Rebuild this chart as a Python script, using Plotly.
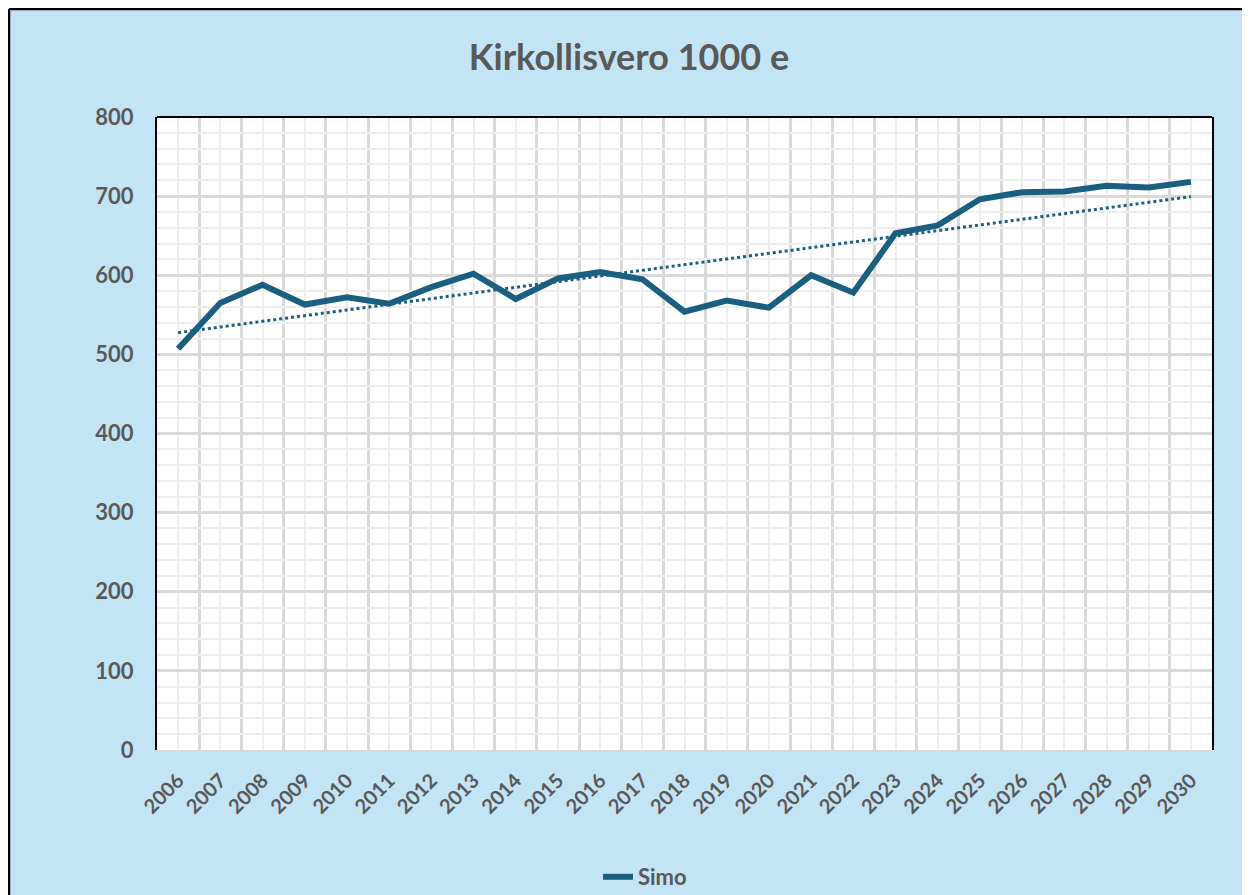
import numpy as np
import plotly.graph_objects as go

years = list(range(2006, 2031))
year_labels = [str(y) for y in years]
simo = [507, 565, 588, 563, 572, 564, 585, 602, 570, 596, 604, 595, 554, 568, 559,
        600, 578, 653, 663, 696, 705, 706, 713, 711, 718]

LINE = "#1b5f80"
TXT = "#595959"
BG = "#c3e4f5"
FONT = "Lato"

# Linear trend (like Excel trendline), derived from the series
coef = np.polyfit(years, simo, 1)
trend = np.polyval(coef, years)

fig = go.Figure()
fig.add_trace(go.Scatter(x=years, y=trend, mode="lines", showlegend=False,
                         line=dict(color=LINE, width=3, dash="dot"), hoverinfo="skip"))
fig.add_trace(go.Scatter(x=years, y=simo, mode="lines", name="Simo",
                         line=dict(color=LINE, width=6)))

# page has an 8px body margin; figure occupies page x 8..1250, y 8..895
OFF = 8
W, H = 1250 - OFF, 895 - OFF
L, T = 157 - OFF, 117 - OFF
R = W - (1212 - OFF)
B = H - (750 - OFF)
pw, ph = W - L - R, H - T - B

def px(X):
    return (X - OFF - L) / pw

def py(Y):
    return (H - B - (Y - OFF)) / ph

fig.update_layout(
    width=W, height=H,
    margin=dict(l=L, r=R, t=T, b=B, autoexpand=False),
    paper_bgcolor=BG,
    plot_bgcolor="white",
    title=dict(text="Kirkollisvero 1000 e", x=(629 - OFF) / W, xanchor="center",
               y=1 - (57 - OFF) / H, yanchor="middle",
               font=dict(family=FONT, size=36, color=TXT, weight="bold")),
    showlegend=True,
    legend=dict(orientation="h", x=px(598), xanchor="left", y=py(877), yanchor="middle",
                font=dict(family=FONT, size=22, color=TXT, weight="bold"),
                bgcolor="rgba(0,0,0,0)"),
    shapes=[
        # outer chart frame (left and top edges visible)
        dict(type="line", xref="paper", yref="paper", x0=px(9), x1=px(9),
             y0=py(900), y1=py(9), line=dict(color="black", width=2.5)),
        dict(type="line", xref="paper", yref="paper", x0=px(9), x1=px(1260),
             y0=py(9), y1=py(9), line=dict(color="black", width=2.5)),
        # top edge of plot area
        dict(type="line", xref="paper", yref="paper", x0=0, x1=1, y0=1, y1=1,
             line=dict(color="black", width=2)),
    ],
)

fig.update_xaxes(
    range=[2005.5, 2030.5], tickmode="array", tickvals=years, ticktext=year_labels,
    tickangle=-45, tickfont=dict(family=FONT, size=20, color=TXT, weight="bold"),
    showgrid=True, gridcolor="#eeeeee", gridwidth=2,
    minor=dict(tick0=2005.5, dtick=1, showgrid=True, gridcolor="#d9d9d9", gridwidth=2.5),
    showline=True, linecolor="#d9d9d9", linewidth=2, ticks="", zeroline=False,
    ticklabelstandoff=9,
)
fig.update_yaxes(
    range=[0, 800], dtick=100, tickfont=dict(family=FONT, size=22, color=TXT, weight="bold"),
    showgrid=True, gridcolor="#d9d9d9", gridwidth=2.5,
    minor=dict(dtick=20, showgrid=True, gridcolor="#eeeeee", gridwidth=2),
    showline=True, linecolor="black", linewidth=2, mirror=True, ticks="",
    zeroline=False, ticklabelstandoff=17,
)

fig.write_html("out.html")
